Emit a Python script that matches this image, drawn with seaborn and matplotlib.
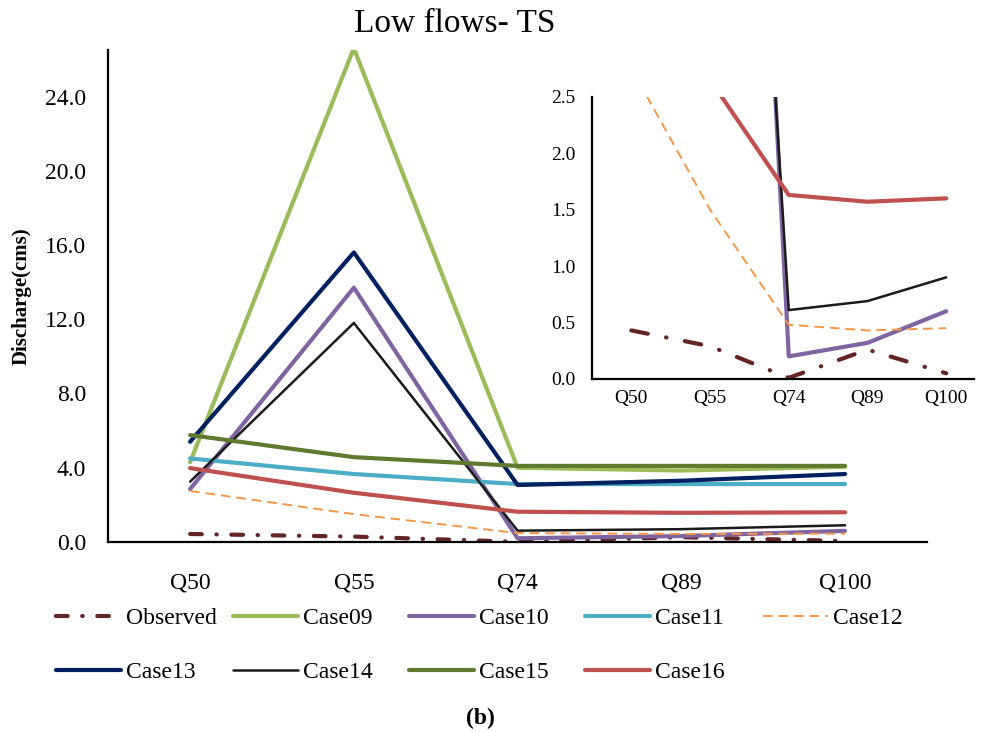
import matplotlib
matplotlib.use("Agg")
import matplotlib.pyplot as plt
import seaborn as sns
import pandas as pd

sns.set_theme(style="white")
plt.rcParams['font.family'] = ['Liberation Serif', 'DejaVu Serif']
plt.rcParams['text.color'] = 'black'
plt.rcParams['axes.labelcolor'] = 'black'
plt.rcParams['xtick.color'] = 'black'
plt.rcParams['ytick.color'] = 'black'

quantiles = ["Q50", "Q55", "Q74", "Q89", "Q100"]
observed = [0.43, 0.29, 0.01, 0.26, 0.05]
case09 = [4.3, 26.6, 4.0, 3.85, 4.05]
case10 = [2.85, 13.7, 0.20, 0.32, 0.60]
case11 = [4.5, 3.66, 3.12, 3.12, 3.12]
case12 = [2.75, 1.50, 0.48, 0.43, 0.45]
case13 = [5.4, 15.6, 3.07, 3.3, 3.66]
case14 = [3.25, 11.8, 0.61, 0.69, 0.90]
case15 = [5.76, 4.57, 4.1, 4.1, 4.1]
case16 = [3.98, 2.65, 1.63, 1.57, 1.60]

series = [
    ("Observed", observed, "#632523", 3.0, (0, (2.8, 3.5, 0.1, 3.5))),
    ("Case09", case09, "#9BBB59", 3.0, "-"),
    ("Case10", case10, "#8064A2", 3.0, "-"),
    ("Case11", case11, "#4BACC6", 3.0, "-"),
    ("Case12", case12, "#F79646", 1.4, (0, (5, 3))),
    ("Case13", case13, "#002060", 3.0, "-"),
    ("Case14", case14, "#1A1A1A", 1.8, "-"),
    ("Case15", case15, "#5F7A2F", 3.0, "-"),
    ("Case16", case16, "#C0504D", 3.0, "-"),
]

fig = plt.figure(figsize=(9.84, 7.33), dpi=100)
ax = fig.add_axes([0.110, 0.2606, 0.832, 0.671])

for name, vals, col, lw, ls in series:
    df = pd.DataFrame({"q": quantiles, "v": vals})
    sns.lineplot(data=df, x="q", y="v", ax=ax, color=col, lw=lw,
                 linestyle=ls, label=name, sort=False,
                 dash_capstyle="round" if name == "Observed" else "butt")

ax.set_xlim(-0.5, 4.5)
ax.set_ylim(0, 26.5)
ax.set_yticks([0, 4, 8, 12, 16, 20, 24])
ax.set_yticklabels([f"{v:.1f}" for v in [0, 4, 8, 12, 16, 20, 24]], fontsize=17)
ax.set_xticks(range(5))
ax.set_xticklabels(quantiles, fontsize=17)
ax.tick_params(axis="y", length=0, pad=16)
ax.tick_params(axis="x", length=0, pad=22)
for s in ["top", "right"]:
    ax.spines[s].set_visible(False)
for s in ["left", "bottom"]:
    ax.spines[s].set_color("black")
    ax.spines[s].set_linewidth(1.6)
ax.set_xlabel("")
ax.set_ylabel("Discharge(cms)", fontsize=15, fontweight="bold")
ax.yaxis.set_label_coords(-0.093, 0.5)

handles, labels = ax.get_legend_handles_labels()
ax.get_legend().remove()
hmap = dict(zip(labels, handles))
rows = [["Observed", "Case09", "Case10", "Case11", "Case12"],
        ["Case13", "Case14", "Case15", "Case16"]]
col_x = [56, 233, 409, 585, 763]
for r, row in enumerate(rows):
    for c, name in enumerate(row):
        fig.legend([hmap[name]], [name], loc="center left",
                   bbox_to_anchor=(col_x[c] / 984, 1 - (618 + 54 * r) / 733),
                   frameon=False, fontsize=17, handlelength=2.75,
                   handletextpad=0.2, borderaxespad=0, borderpad=0)

fig.text(0.462, 0.968, "Low flows- TS", ha="center", va="center", fontsize=24)
fig.text(0.488, 0.02, "(b)", ha="center", va="center", fontsize=17, fontweight="bold")

# inset
axi = fig.add_axes([0.6016, 0.483, 0.388, 0.385])
axi.set_facecolor("white")
for name, vals, col, lw, ls in series:
    df = pd.DataFrame({"q": quantiles, "v": vals})
    lsi = (0, (4, 4.5, 0.1, 4.5)) if name == "Observed" else ls
    sns.lineplot(data=df, x="q", y="v", ax=axi, color=col, lw=lw,
                 linestyle=lsi, sort=False, legend=False,
                 dash_capstyle="round" if name == "Observed" else "butt")
axi.set_xlim(-0.5, 4.35)
axi.set_ylim(0, 2.5)
axi.set_yticks([0, 0.5, 1.0, 1.5, 2.0, 2.5])
axi.set_yticklabels([f"{v:.1f}" for v in [0, 0.5, 1.0, 1.5, 2.0, 2.5]], fontsize=14)
axi.set_xticks(range(5))
axi.set_xticklabels(quantiles, fontsize=14)
axi.tick_params(axis="y", length=0, pad=12)
axi.tick_params(axis="x", length=0, pad=8)
axi.set_xlabel("")
axi.set_ylabel("")
for s in ["top", "right"]:
    axi.spines[s].set_visible(False)
for s in ["left", "bottom"]:
    axi.spines[s].set_color("black")
    axi.spines[s].set_linewidth(1.6)

fig.savefig("out.png", dpi=100)
